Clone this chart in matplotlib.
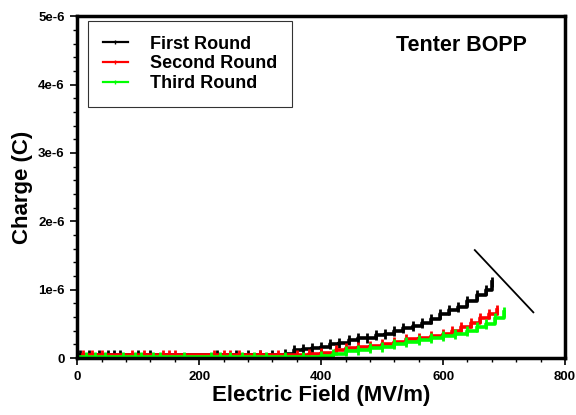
import matplotlib
matplotlib.use("Agg")
import matplotlib.pyplot as plt
from matplotlib.lines import Line2D
from matplotlib.ticker import MultipleLocator, FuncFormatter

plt.rcParams['font.family'] = ['Liberation Sans', 'DejaVu Sans']
plt.rcParams['font.weight'] = 'bold'

# field (MV/m) and charge (units of 1e-6 C)
x_first = [5, 20, 35, 50, 60, 70, 100, 120, 230, 260, 280, 300, 320, 340, 355, 370, 385, 400,
           415, 430, 445, 460, 475, 490, 505, 520, 535, 550, 565, 580, 595, 610, 625, 640,
           655, 670, 680]
y_first = [0.04, 0.04, 0.04, 0.04, 0.04, 0.04, 0.04, 0.04, 0.04, 0.04, 0.04, 0.05, 0.05, 0.06,
           0.12, 0.14, 0.15, 0.16, 0.20, 0.22, 0.26, 0.29, 0.30, 0.34, 0.36, 0.40, 0.44, 0.47,
           0.52, 0.57, 0.64, 0.70, 0.75, 0.84, 0.92, 1.00, 1.12]

x_second = [10, 25, 40, 90, 110, 140, 150, 160, 225, 240, 250, 265, 300, 330, 360, 380, 400,
            425, 440, 460, 480, 500, 520, 540, 560, 580, 600, 615, 630, 645, 660, 675, 688]
y_second = [0.04, 0.04, 0.04, 0.04, 0.04, 0.04, 0.04, 0.04, 0.04, 0.04, 0.04, 0.04, 0.04, 0.05,
            0.04, 0.06, 0.08, 0.12, 0.15, 0.16, 0.18, 0.20, 0.24, 0.28, 0.30, 0.32, 0.36, 0.40,
            0.46, 0.52, 0.58, 0.64, 0.70]

x_third = [0, 15, 30, 45, 75, 95, 105, 125, 135, 175, 220, 235, 250, 270, 290, 310, 340, 370,
           400, 420, 440, 460, 480, 500, 520, 540, 560, 580, 600, 620, 640, 655, 670, 685, 700]
y_third = [0.02, 0.02, 0.02, 0.02, 0.02, 0.02, 0.02, 0.02, 0.02, 0.02, 0.02, 0.02, 0.02, 0.02,
           0.02, 0.02, 0.02, 0.02, 0.03, 0.06, 0.10, 0.12, 0.15, 0.17, 0.20, 0.23, 0.26, 0.30,
           0.33, 0.36, 0.40, 0.45, 0.50, 0.58, 0.68]

slope_x = [652, 748]
slope_y = [1.58, 0.67]

series = [("First Round", x_first, y_first, "black"),
          ("Second Round", x_second, y_second, "red"),
          ("Third Round", x_third, y_third, "#00ff00")]

fig = plt.figure(figsize=(5.76, 4.15), dpi=100)
ax = fig.add_axes([0.134, 0.137, 0.847, 0.824])

handles = []
for name, xs, ys, col in series:
    ax.plot(xs, [v * 1e-6 for v in ys], color=col, lw=2.6, drawstyle='steps-post',
            marker='|', ms=7, mew=2)
    handles.append(Line2D([], [], color=col, lw=1.6, marker='|', ms=3, mew=1, label=name))

ax.plot(slope_x, [v * 1e-6 for v in slope_y], color='black', lw=1.3)

ax.set_xlim(0, 800)
ax.set_ylim(0, 5e-6)
ax.xaxis.set_major_locator(MultipleLocator(200))
ax.xaxis.set_minor_locator(MultipleLocator(40))
ax.yaxis.set_major_locator(MultipleLocator(1e-6))
ax.yaxis.set_minor_locator(MultipleLocator(0.2e-6))
ax.yaxis.set_major_formatter(FuncFormatter(lambda v, p: "0" if v == 0 else "%de-6" % round(v * 1e6)))
ax.tick_params(which='major', direction='out', length=5, width=1.2, labelsize=9.5, pad=4)
ax.tick_params(which='minor', direction='out', length=3, width=1)
for lab in ax.get_xticklabels() + ax.get_yticklabels():
    lab.set_fontweight('bold')
for sp in ax.spines.values():
    sp.set_linewidth(2.5)

ax.set_xlabel("Electric Field (MV/m)", fontsize=16, fontweight='bold', labelpad=2)
ax.set_ylabel("Charge (C)", fontsize=16, fontweight='bold', labelpad=4)
ax.text(0.922, 0.915, "Tenter BOPP", transform=ax.transAxes, ha='right', va='center',
        fontsize=15.5, fontweight='bold')

leg = ax.legend(handles=handles, loc='upper left', bbox_to_anchor=(0.0225, 0.985),
                borderaxespad=0, fontsize=13, frameon=True, fancybox=False, edgecolor='black',
                handlelength=1.4, handletextpad=1.25, borderpad=0.8, labelspacing=0.15)
leg.get_frame().set_linewidth(0.8)
for t in leg.get_texts():
    t.set_fontweight('bold')

fig.savefig("out.png", dpi=100)
